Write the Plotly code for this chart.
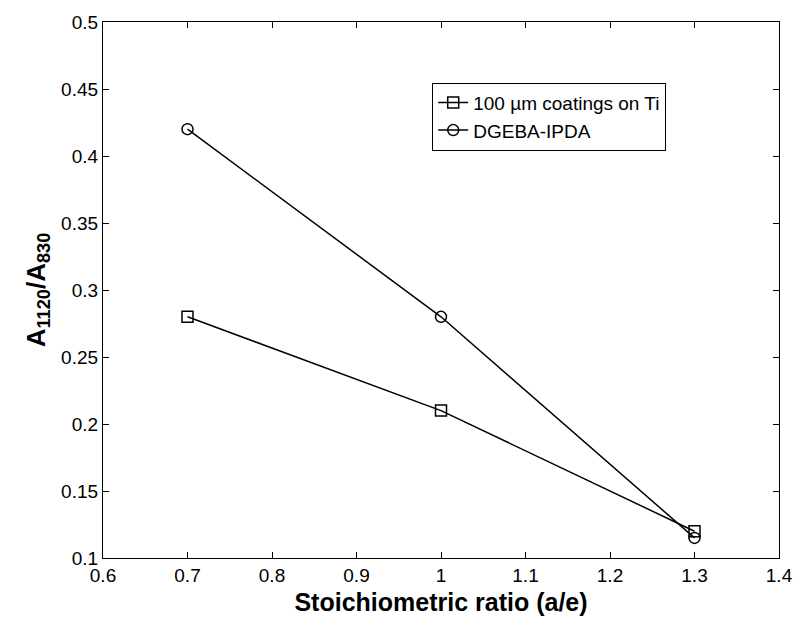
import plotly.graph_objects as go

ratio = [0.7, 1.0, 1.3]
coatings_ti = [0.28, 0.21, 0.12]
dgeba_ipda = [0.42, 0.28, 0.115]
series_names = ["100 µm coatings on Ti", "DGEBA-IPDA"]
x_ticks = [0.6, 0.7, 0.8, 0.9, 1.0, 1.1, 1.2, 1.3, 1.4]
x_ticklabels = ["0.6", "0.7", "0.8", "0.9", "1", "1.1", "1.2", "1.3", "1.4"]
y_ticks = [0.1, 0.15, 0.2, 0.25, 0.3, 0.35, 0.4, 0.45, 0.5]
y_ticklabels = ["0.1", "0.15", "0.2", "0.25", "0.3", "0.35", "0.4", "0.45", "0.5"]

fig = go.Figure()
fig.add_trace(go.Scatter(
    x=ratio, y=coatings_ti, name=series_names[0], mode="lines+markers",
    line=dict(color="black", width=1.5),
    marker=dict(symbol="square-open", size=11, color="black", line=dict(width=1.5)),
))
fig.add_trace(go.Scatter(
    x=ratio, y=dgeba_ipda, name=series_names[1], mode="lines+markers",
    line=dict(color="black", width=1.5),
    marker=dict(symbol="circle-open", size=11, color="black", line=dict(width=1.5)),
))

axis_common = dict(
    showgrid=False, zeroline=False, showline=True, linecolor="black", linewidth=1.2,
    mirror="allticks", ticks="inside", ticklen=6, tickcolor="black", tickwidth=1,
    tickfont=dict(family="Liberation Sans, Arial, sans-serif", size=19, color="black"),
)

fig.update_layout(
    width=805, height=625,
    margin=dict(l=103, r=14, t=19, b=67),
    paper_bgcolor="white", plot_bgcolor="white",
    font=dict(family="Liberation Sans, Arial, sans-serif", color="black"),
    xaxis=dict(range=[0.6, 1.4], tickvals=x_ticks, ticktext=x_ticklabels,
               title=dict(text="<b>Stoichiometric ratio (a/e)</b>",
                          font=dict(size=25), standoff=8),
               **axis_common),
    yaxis=dict(range=[0.1, 0.5], tickvals=y_ticks, ticktext=y_ticklabels,
               title=dict(text="<b>A<sub>1120</sub>/A<sub>830</sub></b>",
                          font=dict(size=26), standoff=8),
               **axis_common),
    legend=dict(x=0.487, y=0.887, xanchor="left", yanchor="top",
                bordercolor="black", borderwidth=1, bgcolor="white",
                font=dict(size=19), tracegroupgap=0, itemwidth=30),
    showlegend=True,
)

fig.write_html("out.html")
